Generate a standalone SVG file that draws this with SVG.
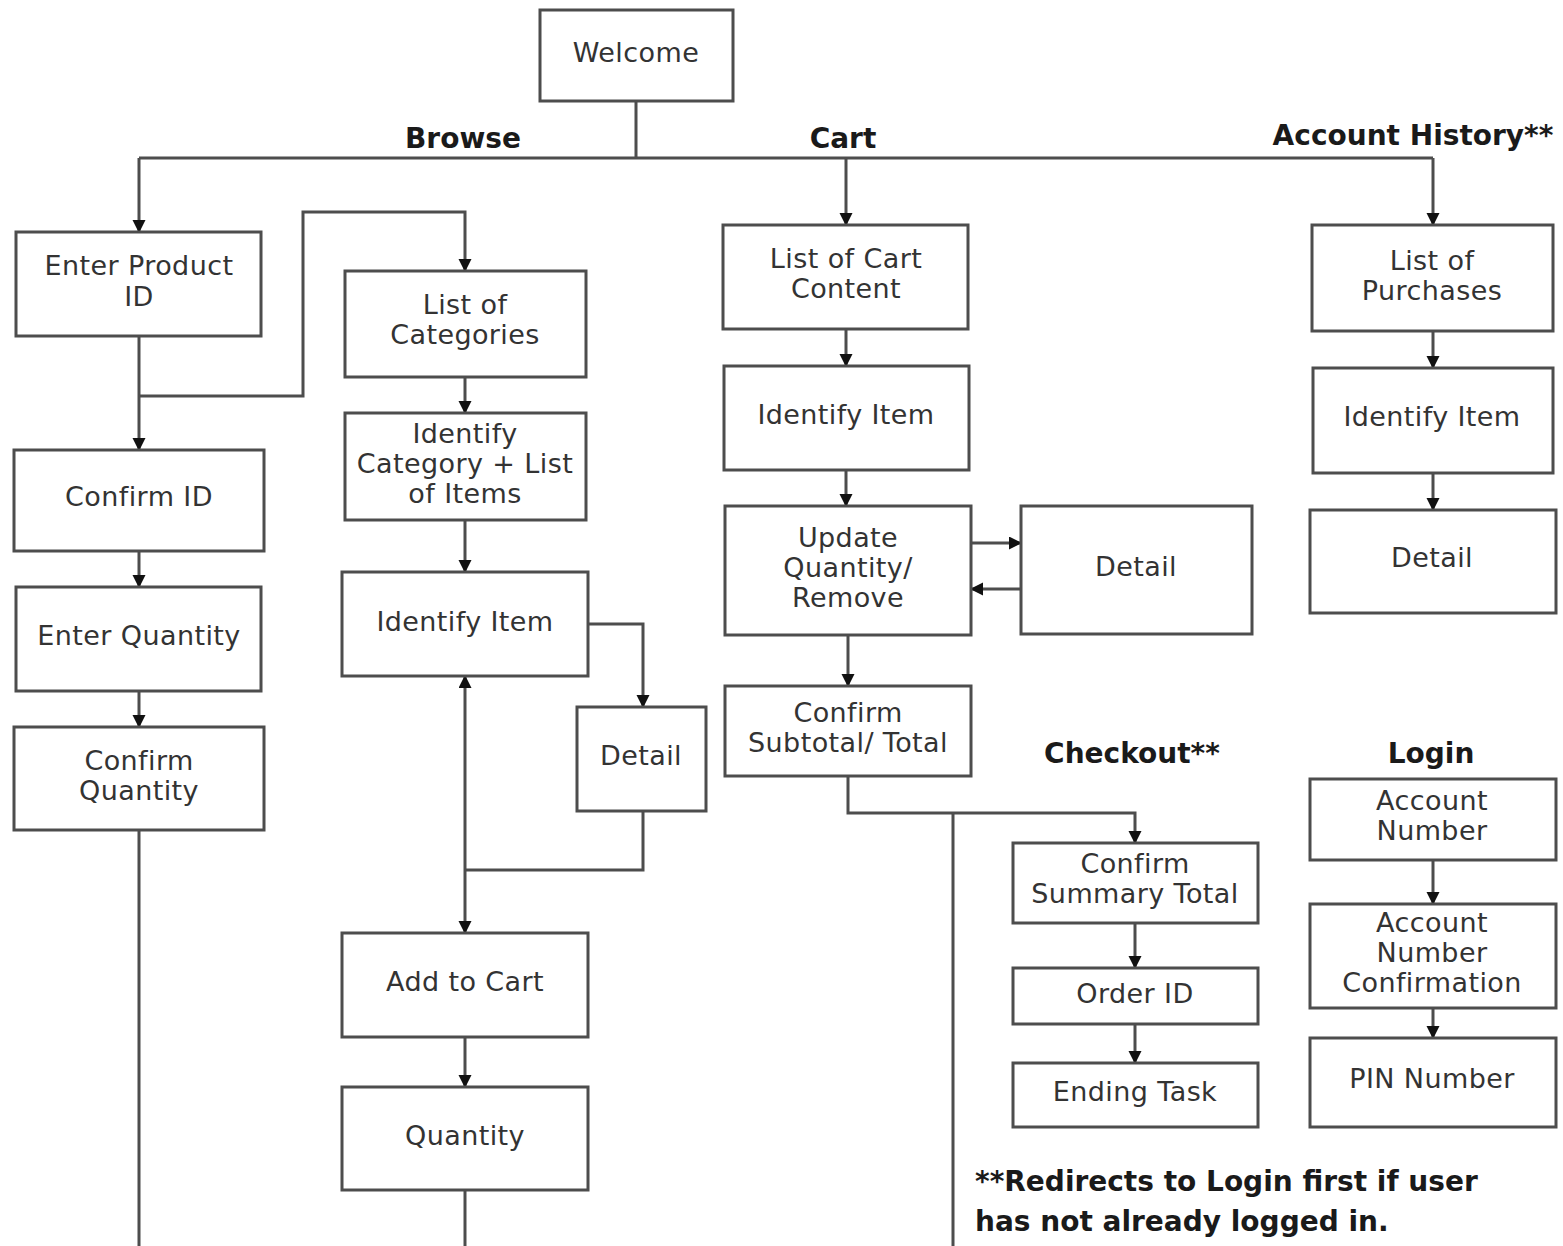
<svg xmlns="http://www.w3.org/2000/svg" width="1563" height="1246" viewBox="0 0 1563 1246">
<style>
.box{fill:#fff;stroke:#4d4d4d;stroke-width:3}
.t{font-family:"DejaVu Sans",Verdana,sans-serif;font-size:27px;letter-spacing:0.4px;fill:#333;text-anchor:middle}
.lbl{font-family:"DejaVu Sans",Verdana,sans-serif;font-size:28px;font-weight:bold;fill:#1a1a1a;text-anchor:middle}
.note{font-family:"DejaVu Sans",Verdana,sans-serif;font-size:28px;font-weight:bold;fill:#1a1a1a}
.c{fill:none;stroke:#4d4d4d;stroke-width:3}
.a{marker-end:url(#arr)}
</style>
<defs>
<marker id="arr" markerUnits="userSpaceOnUse" markerWidth="14" markerHeight="14" refX="12" refY="6.5" orient="auto">
<path d="M0,0 L13,6.5 L0,13 z" fill="#111"/>
</marker>
</defs>
<rect width="1563" height="1246" fill="#fff"/>
<g id="connectors">
<path class="c" d="M636,101 V158 M139,158 H1433"/>
<path class="c a" d="M139,158 V232"/>
<path class="c a" d="M846,158 V225"/>
<path class="c a" d="M1433,158 V225"/>
<path class="c a" d="M139,336 V450"/>
<path class="c a" d="M139,396 H303 V212 H465 V271"/>
<path class="c a" d="M465,377 V413"/>
<path class="c a" d="M465,520 V572"/>
<path class="c a" d="M588,624 H643 V707"/>
<path class="c" d="M643,811 V870 H465"/>
<path class="c a" d="M465,870 V676"/>
<path class="c a" d="M465,870 V933"/>
<path class="c a" d="M465,1037 V1087"/>
<path class="c" d="M465,1190 V1246"/>
<path class="c a" d="M139,551 V587"/>
<path class="c a" d="M139,691 V727"/>
<path class="c" d="M139,830 V1246"/>
<path class="c a" d="M846,329 V366"/>
<path class="c a" d="M846,470 V506"/>
<path class="c a" d="M848,635 V686"/>
<path class="c a" d="M971,543 H1021"/>
<path class="c a" d="M1021,589 H971"/>
<path class="c a" d="M848,776 V813 H1135 V843"/>
<path class="c" d="M953,813 V1246"/>
<path class="c a" d="M1135,923 V968"/>
<path class="c a" d="M1135,1024 V1063"/>
<path class="c a" d="M1433,331 V368"/>
<path class="c a" d="M1433,473 V510"/>
<path class="c a" d="M1433,860 V904"/>
<path class="c a" d="M1433,1008 V1038"/>
</g>
<g id="labels">
<text class="lbl" x="463" y="148">Browse</text>
<text class="lbl" x="843" y="148">Cart</text>
<text class="lbl" x="1413" y="145">Account History**</text>
<text class="lbl" x="1132" y="763">Checkout**</text>
<text class="lbl" x="1431" y="763">Login</text>
<text class="note" x="975" y="1191">**Redirects to Login first if user</text>
<text class="note" x="975" y="1231">has not already logged in.</text>
</g>
<g id="welcome"><rect class="box" x="540" y="10" width="193" height="91"/><text class="t" x="636" y="62">Welcome</text></g>
<g id="enter-product-id"><rect class="box" x="16" y="232" width="245" height="104"/><text class="t" x="139" y="275">Enter Product</text><text class="t" x="139" y="306">ID</text></g>
<g id="confirm-id"><rect class="box" x="14" y="450" width="250" height="101"/><text class="t" x="139" y="506">Confirm ID</text></g>
<g id="enter-quantity"><rect class="box" x="16" y="587" width="245" height="104"/><text class="t" x="139" y="645">Enter Quantity</text></g>
<g id="confirm-quantity"><rect class="box" x="14" y="727" width="250" height="103"/><text class="t" x="139" y="770">Confirm</text><text class="t" x="139" y="800">Quantity</text></g>
<g id="list-of-categories"><rect class="box" x="345" y="271" width="241" height="106"/><text class="t" x="465" y="314">List of</text><text class="t" x="465" y="344">Categories</text></g>
<g id="identify-category"><rect class="box" x="345" y="413" width="241" height="107"/><text class="t" x="465" y="443">Identify</text><text class="t" x="465" y="473">Category + List</text><text class="t" x="465" y="503">of Items</text></g>
<g id="identify-item-browse"><rect class="box" x="342" y="572" width="246" height="104"/><text class="t" x="465" y="631">Identify Item</text></g>
<g id="detail-browse"><rect class="box" x="577" y="707" width="129" height="104"/><text class="t" x="641" y="765">Detail</text></g>
<g id="add-to-cart"><rect class="box" x="342" y="933" width="246" height="104"/><text class="t" x="465" y="991">Add to Cart</text></g>
<g id="quantity"><rect class="box" x="342" y="1087" width="246" height="103"/><text class="t" x="465" y="1145">Quantity</text></g>
<g id="list-of-cart-content"><rect class="box" x="723" y="225" width="245" height="104"/><text class="t" x="846" y="268">List of Cart</text><text class="t" x="846" y="298">Content</text></g>
<g id="identify-item-cart"><rect class="box" x="724" y="366" width="245" height="104"/><text class="t" x="846" y="424">Identify Item</text></g>
<g id="update-quantity"><rect class="box" x="725" y="506" width="246" height="129"/><text class="t" x="848" y="547">Update</text><text class="t" x="848" y="577">Quantity/</text><text class="t" x="848" y="607">Remove</text></g>
<g id="detail-cart"><rect class="box" x="1021" y="506" width="231" height="128"/><text class="t" x="1136" y="576">Detail</text></g>
<g id="confirm-subtotal"><rect class="box" x="725" y="686" width="246" height="90"/><text class="t" x="848" y="722">Confirm</text><text class="t" x="848" y="752">Subtotal/ Total</text></g>
<g id="confirm-summary-total"><rect class="box" x="1013" y="843" width="245" height="80"/><text class="t" x="1135" y="873">Confirm</text><text class="t" x="1135" y="903">Summary Total</text></g>
<g id="order-id"><rect class="box" x="1013" y="968" width="245" height="56"/><text class="t" x="1135" y="1003">Order ID</text></g>
<g id="ending-task"><rect class="box" x="1013" y="1063" width="245" height="64"/><text class="t" x="1135" y="1101">Ending Task</text></g>
<g id="list-of-purchases"><rect class="box" x="1312" y="225" width="241" height="106"/><text class="t" x="1432" y="270">List of</text><text class="t" x="1432" y="300">Purchases</text></g>
<g id="identify-item-account"><rect class="box" x="1313" y="368" width="240" height="105"/><text class="t" x="1432" y="426">Identify Item</text></g>
<g id="detail-account"><rect class="box" x="1310" y="510" width="246" height="103"/><text class="t" x="1432" y="567">Detail</text></g>
<g id="account-number"><rect class="box" x="1310" y="779" width="246" height="81"/><text class="t" x="1432" y="810">Account</text><text class="t" x="1432" y="840">Number</text></g>
<g id="account-number-confirmation"><rect class="box" x="1310" y="904" width="246" height="104"/><text class="t" x="1432" y="932">Account</text><text class="t" x="1432" y="962">Number</text><text class="t" x="1432" y="992">Confirmation</text></g>
<g id="pin-number"><rect class="box" x="1310" y="1038" width="246" height="89"/><text class="t" x="1432" y="1088">PIN Number</text></g>
</svg>
